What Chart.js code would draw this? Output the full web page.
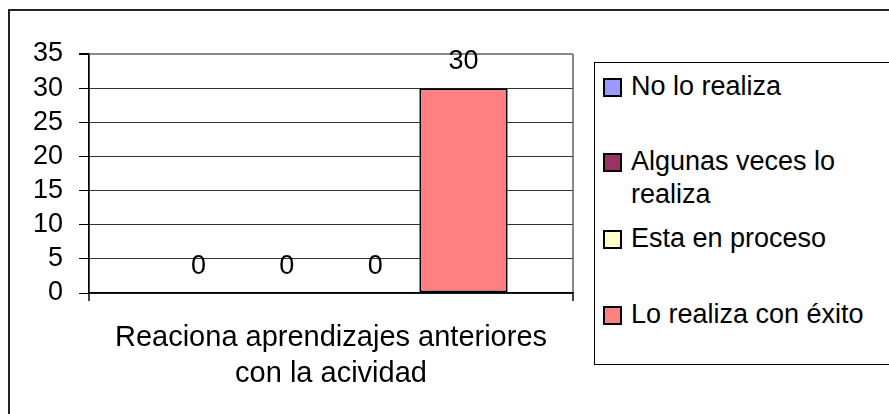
<!DOCTYPE html>
<html>
<head>
<meta charset="utf-8">
<script src="https://cdn.jsdelivr.net/npm/chart.js@4.4.0/dist/chart.umd.min.js"></script>
<style>
  body{margin:0;background:#fff;font-family:"Liberation Sans",Arial,sans-serif;}
  #wrap{position:relative;width:889px;height:414px;overflow:hidden;}
  #marco{position:absolute;left:8px;top:9px;width:1000px;height:1000px;border:2px solid #222;box-sizing:border-box;}
  #leyenda{position:absolute;left:594px;top:62px;width:400px;height:303px;border:1.5px solid #000;box-sizing:border-box;background:#fff;}
  .item{position:absolute;left:8px;width:290px;font-size:27px;line-height:33px;color:#000;}
  .item span.cuadro{position:absolute;left:0;top:8px;width:15px;height:15px;border:2px solid #000;}
  .item span.txt{display:block;margin-left:28px;width:250px;}
  canvas{position:absolute;left:0;top:0;}
</style>
</head>
<body>
<div id="wrap">
  <div id="marco"></div>
  <canvas id="grafico" width="889" height="414"></canvas>
  <div id="leyenda"></div>
</div>
<script>
// datos
const categorias = [["Reaciona aprendizajes anteriores", "con la acividad"]];
const series = ["No lo realiza", "Algunas veces lo realiza", "Esta en proceso", "Lo realiza con éxito"];
const valores = [[0], [0], [0], [30]];
const colores = ["#9999FF", "#993366", "#FFFFCC", "#FF8080"];
const ticksY = [0, 5, 10, 15, 20, 25, 30, 35];

const fuente = '"Liberation Sans", Arial, sans-serif';

// etiquetas de valor encima de cada barra
const etiquetasValor = {
  id: "etiquetasValor",
  afterDatasetsDraw(chart) {
    const ctx = chart.ctx;
    ctx.save();
    ctx.font = "27px " + fuente;
    ctx.fillStyle = "#000";
    ctx.textAlign = "center";
    ctx.textBaseline = "alphabetic";
    chart.data.datasets.forEach((ds, i) => {
      chart.getDatasetMeta(i).data.forEach((bar, j) => {
        ctx.fillText(String(ds.data[j]), bar.x, bar.y - 19);
      });
    });
    ctx.restore();
  }
};

const ctx = document.getElementById("grafico").getContext("2d");
new Chart(ctx, {
  type: "bar",
  data: {
    labels: categorias,
    datasets: series.map((s, i) => ({
      label: s,
      data: valores[i],
      backgroundColor: colores[i],
      borderColor: "#000",
      borderWidth: 2,
      borderSkipped: false,
      categoryPercentage: 0.73,
      barPercentage: 1
    }))
  },
  options: {
    responsive: false,
    animation: false,
    devicePixelRatio: 1,
    layout: {padding: {top: 54, right: 316, left: 0, bottom: 0}},
    plugins: {legend: {display: false}, tooltip: {enabled: false}},
    scales: {
      x: {
        afterFit: s => { s.height = 121; },
        grid: {
          offset: true,
          color: "#888",
          lineWidth: 2,
          tickColor: "#000",
          tickWidth: 1.5,
          tickLength: 8
        },
        border: {color: "#000", width: 1.5},
        ticks: {
          color: "#000",
          padding: 19,
          maxRotation: 0,
          font: {family: fuente, size: 29, lineHeight: 1.24}
        }
      },
      y: {
        min: 0,
        max: 35,
        afterFit: s => { s.width = 89; },
        afterBuildTicks: s => { s.ticks = ticksY.map(v => ({value: v})); },
        grid: {
          color: c => c.tick && c.tick.value === 35 ? "#888" : "#333",
          lineWidth: c => c.tick && c.tick.value === 35 ? 2 : 1,
          tickColor: "#000",
          tickLength: 10
        },
        border: {color: "#000", width: 1.5},
        ticks: {
          color: "#000",
          padding: 16,
          autoSkip: false,
          stepSize: 5,
          font: {family: fuente, size: 27}
        }
      }
    }
  },
  plugins: [etiquetasValor]
});

// leyenda
const posLeyenda = [7, 82, 159, 235];
const leyenda = document.getElementById("leyenda");
series.forEach((s, i) => {
  const div = document.createElement("div");
  div.className = "item";
  div.style.top = posLeyenda[i] + "px";
  div.innerHTML = `<span class="cuadro" style="background:${colores[i]}"></span><span class="txt">${s}</span>`;
  leyenda.appendChild(div);
});
</script>
</body>
</html>
